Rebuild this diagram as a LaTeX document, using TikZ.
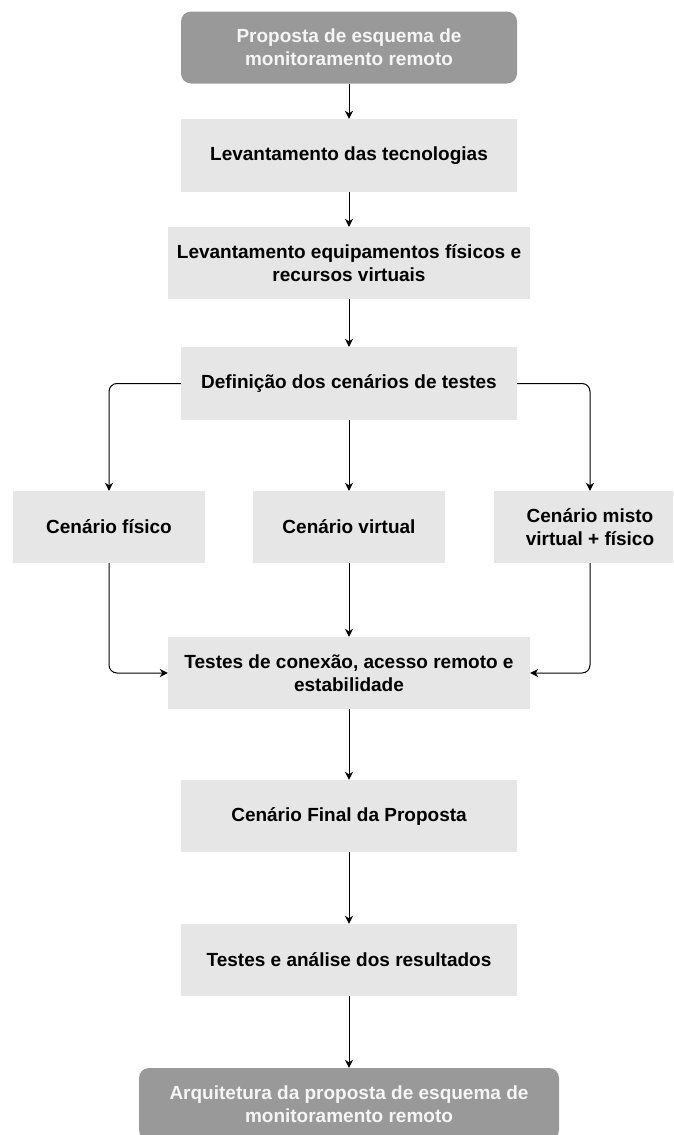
\documentclass[tikz,border=0pt]{standalone}
\usepackage{fontspec}
\setmainfont{Liberation Sans}
\usetikzlibrary{arrows.meta}
\definecolor{boxlight}{HTML}{E6E6E6}
\definecolor{boxdark}{HTML}{999999}
\definecolor{textlight}{HTML}{F5F5F5}
\begin{document}
\begin{tikzpicture}[x=1pt,y=-1pt,
  every node/.style={font=\bfseries\fontsize{19}{23}\selectfont, align=center, inner sep=0pt},
  stepbox/.style={fill=boxlight, minimum height=72pt, text=black},
  endbox/.style={fill=boxdark, rounded corners=10pt, minimum height=72pt, text=textlight},
  flow/.style={draw=black, line width=1pt, -{Stealth[length=8pt,width=8pt,inset=2.5pt]}},
  elbow/.style={flow, rounded corners=8pt}]
  \useasboundingbox (0,0) rectangle (673,1135);
  \clip (0,0) rectangle (673,1135);

  % main column
  \node[endbox, minimum width=336pt] (prop) at (349,47.5) {Proposta de esquema de\\monitoramento remoto};
  \node[stepbox, minimum width=336pt, minimum height=73pt] (tec) at (349,155.5) {Levantamento das tecnologias};
  \node[stepbox, minimum width=362pt] (equip) at (349,263) {Levantamento equipamentos físicos e\\recursos virtuais};
  \node[stepbox, minimum width=336pt, minimum height=73pt] (def) at (349,383.5) {Definição dos cenários de testes};

  % test scenarios
  \node[stepbox, minimum width=192pt] (fis) at (109,527) {Cenário físico};
  \node[stepbox, minimum width=192pt] (vir) at (349,527) {Cenário virtual};
  \node[stepbox, minimum width=192pt] (mis) at (590,527) {Cenário misto\\virtual + físico};

  \node[stepbox, minimum width=362pt] (con) at (349,673) {Testes de conexão, acesso remoto e\\estabilidade};
  \node[stepbox, minimum width=336pt] (fin) at (349,816) {Cenário Final da Proposta};
  \node[stepbox, minimum width=336pt] (res) at (349,960) {Testes e análise dos resultados};
  \node[endbox, minimum width=420pt] (arq) at (349,1104) {Arquitetura da proposta de esquema de\\monitoramento remoto};

  % connectors
  \draw[flow] (prop) -- (tec);
  \draw[flow] (tec) -- (equip);
  \draw[flow] (equip) -- (def);
  \draw[elbow] (def.west) -| (fis.north);
  \draw[flow] (def) -- (vir);
  \draw[elbow] (def.east) -| (mis.north);
  \draw[elbow] (fis.south) |- (con.west);
  \draw[flow] (vir) -- (con);
  \draw[elbow] (mis.south) |- (con.east);
  \draw[flow] (con) -- (fin);
  \draw[flow] (fin) -- (res);
  \draw[flow] (res) -- (arq);
\end{tikzpicture}
\end{document}
